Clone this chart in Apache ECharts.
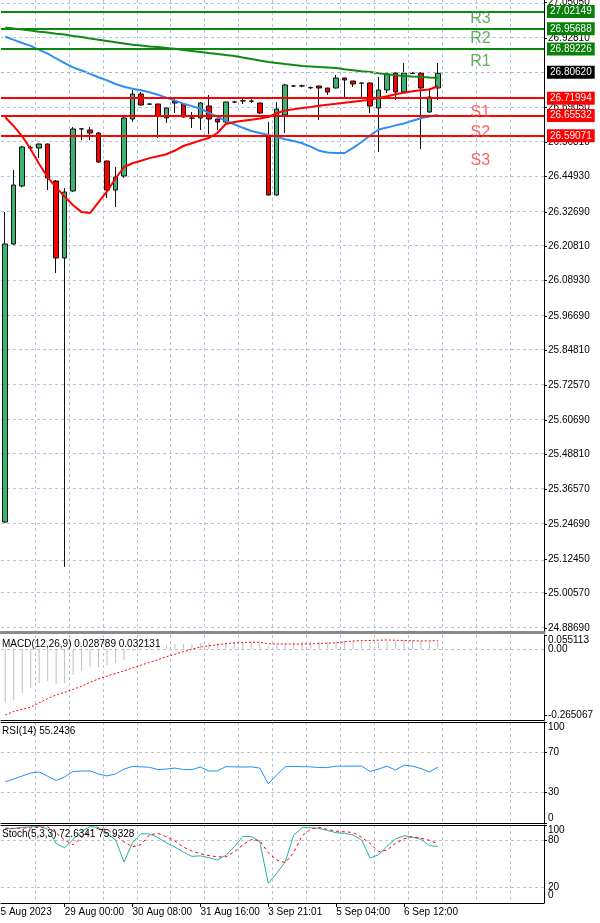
<!DOCTYPE html>
<html>
<head>
<meta charset="utf-8">
<script src="https://cdn.jsdelivr.net/npm/echarts@6.0.0/dist/echarts.min.js"></script>
<style>
html,body{margin:0;padding:0;background:#fff;}
#chart{width:600px;height:923px;}
</style>
</head>
<body>
<div id="chart"></div>
<script>
// ---------------- data ----------------
const categories = ['27 Aug 21:00','28 Aug 00:00','28 Aug 04:00','28 Aug 08:00','28 Aug 12:00','28 Aug 16:00','28 Aug 20:00','29 Aug 00:00','29 Aug 04:00','29 Aug 08:00','29 Aug 12:00','29 Aug 16:00','29 Aug 20:00','30 Aug 00:00','30 Aug 04:00','30 Aug 08:00','30 Aug 12:00','30 Aug 16:00','30 Aug 20:00','31 Aug 00:00','31 Aug 04:00','31 Aug 08:00','31 Aug 12:00','31 Aug 16:00','31 Aug 20:00','1 Sep 00:00','1 Sep 04:00','1 Sep 08:00','1 Sep 12:00','1 Sep 16:00','1 Sep 20:00','3 Sep 21:01','4 Sep 00:00','4 Sep 04:00','4 Sep 08:00','4 Sep 12:00','4 Sep 16:00','4 Sep 20:00','5 Sep 00:00','5 Sep 04:00','5 Sep 08:00','5 Sep 12:00','5 Sep 16:00','5 Sep 20:00','6 Sep 00:00','6 Sep 04:00','6 Sep 08:00','6 Sep 12:00','6 Sep 16:00','6 Sep 20:00','7 Sep 00:00','7 Sep 04:00'];

const candleOpen  = [25.2537,26.2156,26.4163,26.5480,26.5478,26.5616,26.4336,26.1672,26.3990,26.6135,26.6101,26.5997,26.5028,26.4025,26.4509,26.6481,26.7346,26.7000,26.7000,26.6516,26.7104,26.7000,26.6516,26.6516,26.6931,26.6481,26.6378,26.7070,26.7104,26.7100,26.7035,26.5893,26.3851,26.6620,26.7623,26.7623,26.7570,26.7623,26.7554,26.7554,26.7900,26.7796,26.7727,26.7727,26.6862,26.7485,26.8073,26.7416,26.8073,26.8073,26.6724,26.7554];
const candleClose = [26.2156,26.4197,26.5513,26.5490,26.5616,26.4440,26.1672,26.3955,26.6135,26.6140,26.5997,26.4993,26.4025,26.4474,26.6516,26.7346,26.6966,26.6995,26.6585,26.6862,26.7035,26.6551,26.6510,26.7035,26.6481,26.6378,26.7070,26.7072,26.7110,26.7095,26.6689,26.3851,26.6827,26.7658,26.7625,26.7630,26.7560,26.7554,26.7416,26.7900,26.7831,26.7692,26.7720,26.6931,26.7485,26.8038,26.7416,26.8073,26.8060,26.7554,26.7243,26.8062];
const candleLow   = [25.2500,26.2120,26.4120,26.5400,26.5132,26.4025,26.1153,25.0980,26.3960,26.5755,26.5755,26.4960,26.3748,26.3436,26.4440,26.6378,26.6950,26.6980,26.5824,26.6343,26.6689,26.6530,26.6170,26.6101,26.5950,26.6101,26.6350,26.7030,26.7000,26.7040,26.6650,26.3830,26.3830,26.5997,26.7590,26.7580,26.7520,26.6447,26.7312,26.7540,26.7243,26.7589,26.7243,26.6689,26.5339,26.7380,26.7139,26.7380,26.8040,26.5443,26.6700,26.7139];
const candleHigh  = [26.3263,26.4717,26.5550,26.5560,26.5630,26.5630,26.4370,26.4094,26.6205,26.6170,26.6205,26.6030,26.5040,26.4820,26.6620,26.7485,26.7416,26.7020,26.7010,26.6880,26.7208,26.7010,26.6724,26.7070,26.7312,26.6490,26.7080,26.7110,26.7200,26.7160,26.7050,26.6378,26.7070,26.7690,26.7660,26.7670,26.7600,26.7640,26.7560,26.8004,26.7910,26.7800,26.7740,26.7750,26.7935,26.8108,26.8090,26.8419,26.8090,26.8100,26.7554,26.8419];

const maGreen = [26.9644,26.9609,26.9575,26.9540,26.9502,26.9471,26.9433,26.9402,26.9357,26.9315,26.9267,26.9225,26.9184,26.9135,26.9094,26.9049,26.9021,26.8993,26.8969,26.8942,26.8910,26.8872,26.8838,26.8803,26.8765,26.8734,26.8696,26.8661,26.8606,26.8557,26.8502,26.8454,26.8419,26.8384,26.8350,26.8315,26.8298,26.8277,26.8260,26.8243,26.8205,26.8170,26.8135,26.8104,26.8066,26.8032,26.7993,26.7966,26.7948,26.7931,26.7914,26.7900];
const maBlue  = [26.9326,26.9218,26.9111,26.9011,26.8876,26.8744,26.8575,26.8412,26.8267,26.8160,26.8042,26.7928,26.7817,26.7692,26.7599,26.7526,26.7478,26.7405,26.7319,26.7218,26.7118,26.7014,26.6928,26.6838,26.6696,26.6561,26.6412,26.6301,26.6177,26.6066,26.5994,26.5928,26.5859,26.5782,26.5717,26.5644,26.5526,26.5385,26.5322,26.5305,26.5305,26.5481,26.5686,26.5910,26.6118,26.6184,26.6260,26.6329,26.6423,26.6506,26.6568,26.6620];
const maRed   = [26.6540,26.6232,26.5883,26.5433,26.4924,26.4464,26.4115,26.3796,26.3499,26.3260,26.3229,26.3603,26.3976,26.4423,26.4821,26.4949,26.5038,26.5128,26.5191,26.5263,26.5391,26.5547,26.5644,26.5741,26.5824,26.5997,26.6308,26.6378,26.6419,26.6457,26.6499,26.6551,26.6679,26.6779,26.6821,26.6865,26.6900,26.6938,26.6973,26.7007,26.7042,26.7077,26.7111,26.7146,26.7212,26.7270,26.7336,26.7391,26.7440,26.7475,26.7502,26.7623];

const macdMain   = [-0.2169,-0.2049,-0.1769,-0.1569,-0.1369,-0.1289,-0.1409,-0.1369,-0.1049,-0.0848,-0.0728,-0.0728,-0.0648,-0.0568,-0.0448,-0.008,0.003,0.010,0.013,0.016,0.019,0.020,0.021,0.023,0.022,0.021,0.024,0.025,0.026,0.026,0.024,0.010,0.016,0.023,0.026,0.028,0.029,0.029,0.028,0.031,0.031,0.031,0.030,0.026,0.027,0.031,0.030,0.033,0.034,0.031,0.027,0.028789];
const macdSignal = [-0.265067,-0.2509,-0.2421,-0.2341,-0.2161,-0.1993,-0.1849,-0.1741,-0.1621,-0.1501,-0.1341,-0.1204,-0.1096,-0.0984,-0.0884,-0.0768,-0.0660,-0.0540,-0.0436,-0.0316,-0.0224,-0.0116,-0.0020,0.0072,0.0120,0.0160,0.0208,0.0236,0.0248,0.0264,0.0264,0.0200,0.0192,0.0192,0.0192,0.0192,0.0196,0.0212,0.0224,0.0236,0.0280,0.0312,0.0324,0.0332,0.0344,0.0352,0.0340,0.0332,0.0320,0.0312,0.0315,0.032131];

const rsiValues = [40.7,43.6,46.6,49.5,50.5,46.3,42.2,45.6,51.0,51.5,51.5,48.5,46.6,48.5,53.4,56.0,55.6,55.2,52.9,53.4,54.4,52.9,52.9,55.4,51.5,51.5,55.8,55.6,55.4,55.6,54.4,38.8,47.6,55.8,56.0,55.8,55.6,54.9,54.9,56.3,56.3,56.3,56.3,51.0,53.4,56.3,52.4,57.3,56.3,53.9,50.5,55.2436];

const stochMain   = [95.6,95.6,96.9,97.6,98.0,94.9,76.1,70.9,81.6,91.9,97.9,96.9,88.5,81.3,52.6,77.4,88.9,88.5,83.9,77.0,71.8,65.1,59.8,60.4,58.1,55.2,61.1,72.2,85.2,85.2,78.7,25.2,38.3,52.6,87.1,96.7,96.4,95.6,92.9,90.2,89.3,87.1,80.8,57.8,61.7,72.7,82.3,86.1,84.4,81.7,73.5,72.6341];
const stochSignal = [96.0,95.5,96.0,96.5,97.0,97.5,89.8,80.7,74.8,83.9,92.5,95.8,94.0,87.2,78.2,72.2,74.8,87.5,89.3,85.0,79.6,71.7,66.7,63.1,60.9,59.1,59.1,65.6,74.4,81.3,80.0,64.4,55.2,51.8,64.7,86.3,94.9,96.9,94.3,92.1,91.3,90.4,84.2,76.3,65.7,67.7,76.6,82.2,85.0,83.1,80.3,75.9328];

const priceTicks = [24.88690,25.00570,25.12450,25.24690,25.36570,25.48810,25.60690,25.72570,25.84810,25.96690,26.08930,26.20810,26.32690,26.44930,26.56810,26.69050,26.92810,27.05050];
const macdTicks  = [-0.265067, 0.055113];
const macdZero   = 0;
const rsiTicks   = [0, 30, 70, 100];
const stochTicks = [80, 100];
const stochLowLevel = 20;
const stochBottomLabel = '0';
const rsiLevels   = [70, 30];
const stochLevels = [80];

const levelNames      = ['R3','R2','R1','S1','S2','S3'];
const levelValues     = [27.02149,26.95688,26.89226,26.71994,26.65532,26.59071];
const levelTextValues = [26.9942,26.9250,26.8454,26.6689,26.5997,26.5028];

const timeLabelIdx = [7,15,23,31,39,47];
const firstAxisLabel = '25 Aug 2023';

// ---------------- layout / style ----------------
const FONT = '"Liberation Sans", Arial, sans-serif';
const SLOTS = 64;
const axisCats = categories.concat(new Array(SLOTS - categories.length).fill(''));
const GRIDLINE = '#b4c4dc';
const GREEN_LVL = '#0d870d';
const RED_LVL = '#ff0000';

function catAxis(g, lineColor, lineWidth, withLabels) {
  return {
    type: 'category', gridIndex: g, data: axisCats, boundaryGap: true, position: 'bottom',
    axisLine: { show: true, onZero: false, lineStyle: { color: lineColor, width: lineWidth } },
    axisTick: withLabels ? { show: true, alignWithLabel: true, length: 4, interval: (i) => timeLabelIdx.includes(i), lineStyle: { color: '#000' } } : { show: false },
    axisLabel: withLabels ? { show: true, interval: (i) => timeLabelIdx.includes(i), align: 'left', margin: 4, fontSize: 10, color: '#000', fontFamily: FONT } : { show: false },
    splitLine: { show: false }
  };
}
function gridAxis(g, topLine) {
  return {
    type: 'value', gridIndex: g, position: 'top', min: 0.5, max: SLOTS + 0.5, interval: 4,
    axisLine: { show: !!topLine, onZero: false, lineStyle: { color: '#000', width: 1 } },
    axisTick: { show: false }, axisLabel: { show: false },
    splitLine: { show: true, showMinLine: false, showMaxLine: false, lineStyle: { color: GRIDLINE, type: [3, 3], width: 1 } }
  };
}
function yAx(g, min, max, ticks, fmt, alignEnds) {
  const lab = { show: true, customValues: ticks, formatter: fmt, fontSize: 10, color: '#000', margin: 4, fontFamily: FONT,
    showMinLabel: true, showMaxLabel: true, hideOverlap: false };
  if (alignEnds) {
    lab.verticalAlignMaxLabel = 'top';
    if (alignEnds === 2) lab.verticalAlignMinLabel = 'bottom';
  }
  return {
    type: 'value', gridIndex: g, position: 'right', min: min, max: max, scale: true,
    axisLine: { show: true, onZero: false, lineStyle: { color: '#000' } },
    axisTick: { show: true, length: 3, customValues: ticks, lineStyle: { color: '#000' } },
    axisLabel: lab,
    splitLine: { show: false }
  };
}
const sideLabel = { show: true, position: 'end', distance: 4, color: '#000', fontSize: 10, fontFamily: FONT };
function hLines(values, color, extra) {
  return { silent: true, z: 1, symbol: ['none', 'none'], animation: false, label: { show: false },
    lineStyle: { color: color, type: [3, 3], width: 1 }, emphasis: { disabled: true },
    data: values.map(v => ({ yAxis: v })).concat(extra || []) };
}

const lastClose = candleClose[candleClose.length - 1];
const levelMarks = levelValues.map((v, k) => ({
  yAxis: v,
  lineStyle: { color: k < 3 ? GREEN_LVL : RED_LVL, width: 2, type: 'solid' },
  label: { formatter: v.toFixed(5), backgroundColor: k < 3 ? '#0a7f0a' : '#ff0000' }
}));
levelMarks.push({
  yAxis: lastClose,
  lineStyle: { color: '#aab8cc', width: 1, type: [3, 3] },
  label: { formatter: lastClose.toFixed(5), backgroundColor: '#000' }
});

const chart = echarts.init(document.getElementById('chart'), null, { renderer: 'canvas' });
const option = {
  animation: false,
  backgroundColor: '#fff',
  title: [
    { text: 'MACD(12,26,9) ' + macdMain[macdMain.length - 1].toFixed(6) + ' ' + macdSignal[macdSignal.length - 1].toFixed(6), left: 2, top: 639, padding: 0, textStyle: { fontSize: 10, fontWeight: 'normal', color: '#000', fontFamily: FONT } },
    { text: 'RSI(14) ' + rsiValues[rsiValues.length - 1].toFixed(4), left: 2, top: 726, padding: 0, textStyle: { fontSize: 10, fontWeight: 'normal', color: '#000', fontFamily: FONT } },
    { text: 'Stoch(5,3,3) ' + stochMain[stochMain.length - 1].toFixed(4) + ' ' + stochSignal[stochSignal.length - 1].toFixed(4), left: 2, top: 829, padding: 0, textStyle: { fontSize: 10, fontWeight: 'normal', color: '#000', fontFamily: FONT } }
  ],
  graphic: [
    { type: 'text', x: -5, y: 907, silent: true, style: { text: firstAxisLabel, fontSize: 10, fontFamily: FONT, fill: '#000', verticalAlign: 'top' } },
    { type: 'text', x: 548, y: 890, silent: true, z: 10, style: { text: stochBottomLabel, fontSize: 10, fontFamily: FONT, fill: '#000', verticalAlign: 'top' } }
  ],
  grid: [
    { left: 1, right: 56, top: 0, height: 632, containLabel: false, outerBoundsMode: 'none' },
    { left: 1, right: 56, top: 635, height: 85, containLabel: false, outerBoundsMode: 'none' },
    { left: 1, right: 56, top: 722, height: 101, containLabel: false, outerBoundsMode: 'none' },
    { left: 1, right: 56, top: 825, height: 78, containLabel: false, outerBoundsMode: 'none' }
  ],
  xAxis: [
    catAxis(0, '#8a8a8a', 3, false), gridAxis(0, false),
    catAxis(1, '#000', 1, false), gridAxis(1, false),
    catAxis(2, '#000', 1, false), gridAxis(2, true),
    catAxis(3, '#000', 1, true), gridAxis(3, true)
  ],
  yAxis: [
    yAx(0, 24.8731, 27.0599, priceTicks, v => v.toFixed(5), 0),
    yAx(1, -0.28508, 0.055113, macdTicks, v => String(v), 1),
    yAx(2, 0, 100, rsiTicks, v => String(v), 2),
    yAx(3, 0, 100, stochTicks, v => String(v), 1)
  ],
  series: [
    {
      name: 'price', type: 'candlestick', xAxisIndex: 0, yAxisIndex: 0, z: 3, barWidth: 5,
      data: candleOpen.map((o, i) => [o, candleClose[i], candleLow[i], candleHigh[i]]),
      itemStyle: { color: '#3cb371', color0: '#ff0000', borderColor: '#111', borderColor0: '#111', borderWidth: 1 },
      markLine: {
        silent: true, symbol: ['none', 'none'], animation: false, emphasis: { disabled: true },
        label: { show: true, position: 'end', distance: 3, color: '#fff', fontSize: 10, fontFamily: FONT, padding: [2, 3, 1, 3] },
        data: levelMarks
      }
    },
    { name: 'MA long', type: 'line', xAxisIndex: 0, yAxisIndex: 0, z: 4, symbol: 'none', data: maGreen, lineStyle: { color: '#118a11', width: 2 } },
    { name: 'MA mid', type: 'line', xAxisIndex: 0, yAxisIndex: 0, z: 4, symbol: 'none', data: maBlue, lineStyle: { color: '#2b8ff2', width: 2 },
      markLine: hLines(priceTicks, GRIDLINE) },
    { name: 'MA short', type: 'line', xAxisIndex: 0, yAxisIndex: 0, z: 4, symbol: 'none', data: maRed, lineStyle: { color: '#ff0000', width: 2 } },
    {
      name: 'levels', type: 'scatter', xAxisIndex: 0, yAxisIndex: 0, z: 6, silent: true, symbolSize: 1,
      itemStyle: { color: 'transparent' },
      label: { show: true, position: 'inside', formatter: '{b}', fontSize: 16, fontFamily: FONT },
      data: levelNames.map((n, k) => ({ name: n, value: [56, levelTextValues[k]], label: { color: k < 3 ? '#3a9a3a' : '#ff3a3a' } }))
    },
    { name: 'MACD', type: 'bar', xAxisIndex: 2, yAxisIndex: 1, barWidth: 1, data: macdMain, itemStyle: { color: '#c0c0c0' } },
    { name: 'Signal', type: 'line', xAxisIndex: 2, yAxisIndex: 1, symbol: 'none', data: macdSignal, lineStyle: { color: '#ff0000', width: 1, type: [2, 2] },
      markLine: hLines([], '#c0c0c0', [{ yAxis: macdZero, label: Object.assign({}, sideLabel, { formatter: macdZero.toFixed(2) }) }]) },
    { name: 'RSI', type: 'line', xAxisIndex: 4, yAxisIndex: 2, symbol: 'none', data: rsiValues, lineStyle: { color: '#1e90ff', width: 1 },
      markLine: hLines(rsiLevels, '#c0c0c0') },
    { name: 'Stoch', type: 'line', xAxisIndex: 6, yAxisIndex: 3, symbol: 'none', data: stochMain, lineStyle: { color: '#20b2aa', width: 1 },
      markLine: hLines(stochLevels, '#c0c0c0', [{ yAxis: stochLowLevel, label: Object.assign({}, sideLabel, { formatter: String(stochLowLevel) }) }]) },
    { name: 'Stoch signal', type: 'line', xAxisIndex: 6, yAxisIndex: 3, symbol: 'none', data: stochSignal, lineStyle: { color: '#ff0000', width: 1, type: [3, 3] } }
  ]
};
chart.setOption(option);
</script>
</body>
</html>
